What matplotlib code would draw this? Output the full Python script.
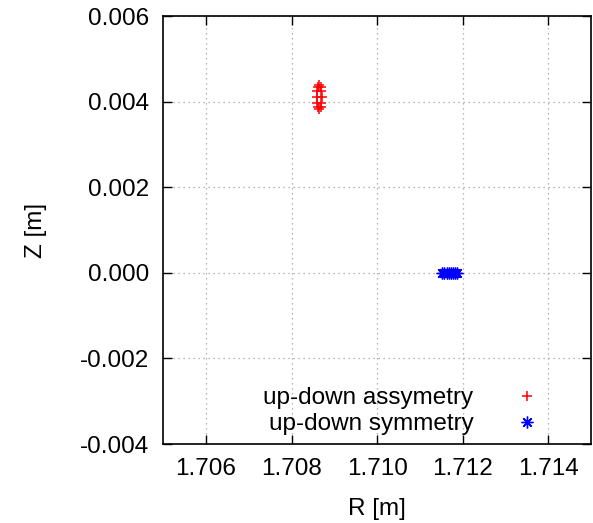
import matplotlib
matplotlib.use("Agg")
import matplotlib.pyplot as plt
from matplotlib.ticker import FormatStrFormatter, MultipleLocator

plt.rcParams["font.family"] = ["Liberation Sans", "DejaVu Sans"]
plt.rcParams["axes.unicode_minus"] = False

# up-down asymmetric case: small loop of points around R~1.70865
asym_R = [1.70865, 1.70868, 1.70870, 1.70871, 1.70870, 1.70868,
          1.70865, 1.70862, 1.70860, 1.70859, 1.70860, 1.70862]
asym_Z = [0.00439, 0.00435, 0.00425, 0.00411, 0.00397, 0.00387,
          0.00383, 0.00387, 0.00397, 0.00411, 0.00425, 0.00435]

# up-down symmetric case: points on the midplane
sym_R = [1.71152, 1.71157, 1.71162, 1.71167, 1.71172, 1.71177, 1.71182, 1.71186]
sym_Z = [0.0, 0.0, 0.0, 0.0, 0.0, 0.0, 0.0, 0.0]

labels = ["up-down assymetry", "up-down symmetry"]

FS = 17.5

fig = plt.figure(figsize=(5.93, 5.23), dpi=100)
ax = fig.add_axes([0.275, 0.151, 0.722, 0.818])

ax.plot(asym_R, asym_Z, ls="none", marker="+", ms=7.5, mew=1.1, color="red", label=labels[0])
ax.plot(sym_R, sym_Z, ls="none", marker=(8, 2, 0), ms=8.5, mew=1.0, color="blue", label=labels[1])

ax.set_xlim(1.705, 1.715)
ax.set_ylim(-0.004, 0.006)
ax.xaxis.set_major_locator(MultipleLocator(0.002))
ax.yaxis.set_major_locator(MultipleLocator(0.002))
ax.xaxis.set_major_formatter(FormatStrFormatter("%.3f"))
ax.yaxis.set_major_formatter(FormatStrFormatter("%.3f"))
ax.tick_params(direction="in", length=6.5, width=1, top=True, right=True, labelsize=FS)
ax.tick_params(axis="x", pad=10)
ax.tick_params(axis="y", pad=10)
ax.grid(True, color="#a0a0a0", linestyle=(0, (1, 3)), linewidth=0.9)
for s in ax.spines.values():
    s.set_linewidth(1.2)

ax.set_xlabel("R [m]", fontsize=FS, labelpad=13)
ax.set_ylabel("Z [m]", fontsize=FS, labelpad=24)

ax.legend(loc="lower right", bbox_to_anchor=(0.892, 0.021), frameon=False, markerfirst=False,
          fontsize=FS, borderpad=0, borderaxespad=0, handlelength=1.5,
          handletextpad=1.45, labelspacing=0.15)

fig.savefig("out.png", dpi=100)
